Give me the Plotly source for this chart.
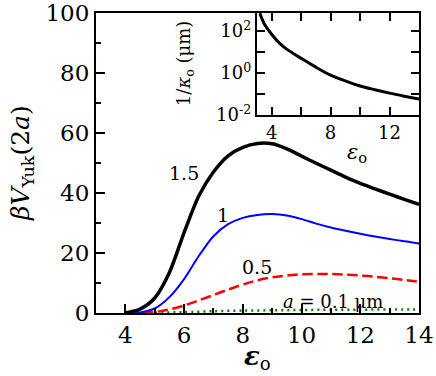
import plotly.graph_objects as go

# main panel: beta*V_Yuk(2a) vs eps_o for several particle radii a (um)
eps_15 = [4.0, 4.5, 5.0, 5.5, 6.0, 6.5, 7.0, 7.5, 8.0, 8.5, 9.0, 9.5, 10.0, 10.5, 11.0, 11.5, 12.0, 12.5, 13.0, 13.5, 14.0]
v_15 = [0, 1.3, 5.0, 13.5, 26.8, 39.0, 47.0, 52.4, 55.2, 56.5, 56.4, 54.7, 52.3, 49.9, 47.6, 45.3, 43.2, 41.4, 39.6, 37.9, 36.2]

eps_10 = [4.2, 4.5, 5.0, 5.5, 6.0, 6.5, 7.0, 7.5, 8.0, 8.5, 9.0, 9.5, 10.0, 10.5, 11.0, 11.5, 12.0, 12.5, 13.0, 13.5, 14.0]
v_10 = [0, 0.2, 1.5, 5.3, 11.3, 19.0, 25.6, 29.6, 31.7, 32.7, 33.0, 32.5, 31.3, 29.8, 28.5, 27.4, 26.4, 25.5, 24.7, 23.9, 23.2]

eps_05 = [4.6, 5.0, 5.5, 6.0, 6.5, 7.0, 7.5, 8.0, 8.5, 9.0, 9.5, 10.0, 10.5, 11.0, 11.5, 12.0, 12.5, 13.0, 13.5, 14.0]
v_05 = [0, 0.3, 1.2, 2.5, 4.2, 6.0, 7.8, 9.5, 10.9, 11.9, 12.5, 12.9, 13.0, 13.0, 12.8, 12.5, 12.1, 11.6, 11.0, 10.4]

eps_01 = [4, 5, 6, 7, 8, 9, 10, 11, 12, 13, 14]
v_01 = [0, 0.1, 0.3, 0.6, 0.8, 0.9, 1.0, 1.1, 1.1, 1.2, 1.2]

# inset: Debye length 1/kappa_o (um) vs eps_o
eps_in = [3.2, 3.5, 4, 4.5, 5, 6, 7, 8, 9, 10, 11, 12, 13, 14]
kappa_inv = [708, 224, 70.8, 28.2, 14.1, 5.0, 1.9, 0.79, 0.42, 0.24, 0.16, 0.11, 0.079, 0.058]

main_xticks = [4, 6, 8, 10, 12, 14]
main_yticks = [0, 20, 40, 60, 80, 100]
inset_xticks = [4, 6, 8, 10, 12, 14]
inset_xtext = ["4", "", "8", "", "12", ""]
inset_yticks = [0.01, 0.1, 1, 10, 100]
inset_ytext = ["10<sup>-2</sup>", "", "10<sup>0</sup>", "", "10<sup>2</sup>"]

FONT = "DejaVu Serif"  # the only serif face that resolves here


def serif(size):
    return dict(family=FONT, size=size, color="black")


fig = go.Figure()

fig.add_trace(go.Scatter(x=eps_01, y=v_01, mode="lines", line=dict(color="#008000", width=2.5, dash="2px,4px", shape="spline", smoothing=0.8)))
fig.add_trace(go.Scatter(x=eps_05, y=v_05, mode="lines", line=dict(color="#ff0000", width=2.5, dash="10px,5px", shape="spline", smoothing=0.8)))
fig.add_trace(go.Scatter(x=eps_10, y=v_10, mode="lines", line=dict(color="#0000ff", width=2, shape="spline", smoothing=0.8)))
fig.add_trace(go.Scatter(x=eps_15, y=v_15, mode="lines", line=dict(color="black", width=3.5, shape="spline", smoothing=0.8)))

fig.add_trace(go.Scatter(x=eps_in, y=kappa_inv, mode="lines", xaxis="x2", yaxis="y2",
                         line=dict(color="black", width=3, shape="spline", smoothing=0.8)))

# automargin off so the tick labels at the frame edges do not shrink the plot
axis_common = dict(showline=True, linecolor="black", linewidth=2, ticks="inside",
                   tickcolor="black", showgrid=False, zeroline=False, automargin=False)

fig.update_layout(
    width=436, height=376,
    margin=dict(l=96, r=17, t=13, b=63),
    paper_bgcolor="white", plot_bgcolor="white",
    showlegend=False,
    font=serif(20),
    xaxis=dict(axis_common, range=[3, 14], domain=[0, 1], mirror=True,
               tickvals=main_xticks, ticklen=9, tickwidth=1.5,
               tickfont=serif(23),
               minor=dict(dtick=1, ticks="inside", ticklen=5, tickcolor="black", tickwidth=1.5)),
    yaxis=dict(axis_common, range=[0, 100], domain=[0, 1], mirror=True,
               tickvals=main_yticks, ticklen=9, tickwidth=1.5,
               tickfont=serif(23),
               minor=dict(dtick=10, ticks="inside", ticklen=5, tickcolor="black", tickwidth=1.5)),
    xaxis2=dict(axis_common, range=[3, 14], domain=[0.498, 1], anchor="y2", mirror="ticks",
                tickvals=inset_xticks, ticktext=inset_xtext, ticklen=8, tickwidth=1.5,
                tickfont=serif(18)),
    yaxis2=dict(axis_common, type="log", range=[-2, 2.86], domain=[0.66, 1], anchor="x2",
                mirror="ticks", tickvals=inset_yticks, ticktext=inset_ytext, ticklen=8,
                tickwidth=1.5, tickfont=serif(18)),
)

annotations = [
    dict(text="<i>βV</i><sub>Yuk</sub>(2<i>a</i>)", xref="paper", yref="paper", x=-0.229, y=0.5,
         textangle=-90, font=serif(25)),
    dict(text="<b><i>ε</i></b><sub>o</sub>", xref="paper", yref="paper", x=0.5, y=-0.148,
         font=serif(26)),
    dict(text="1/<i>κ</i><sub>o</sub> (μm)", xref="paper", yref="paper", x=0.276, y=0.83,
         textangle=-90, font=serif(18)),
    dict(text="<i>ε</i><sub>o</sub>", xref="paper", yref="paper", x=0.808, y=0.535,
         font=serif(21)),
    dict(text="1.5", x=6.0, y=46.7, font=serif(19)),
    dict(text="1", x=7.33, y=32.7, font=serif(19)),
    dict(text="0.5", x=8.48, y=15.3, font=serif(19)),
    dict(text="<i>a</i> = 0.1 μm", x=11.07, y=3.7, font=serif(18)),
]
for a in annotations:
    a.update(showarrow=False, xanchor="center", yanchor="middle")
fig.update_layout(annotations=annotations)

# drop the default 8px page margin so the figure sits at the window's corner
fig.write_html("out.html", config={"displayModeBar": False},
               post_script="document.body.style.margin='0';")
